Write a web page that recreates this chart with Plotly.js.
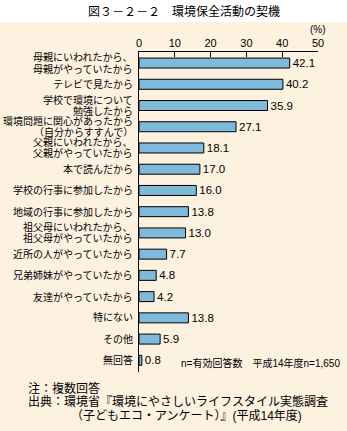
<!DOCTYPE html>
<html><head><meta charset="utf-8">
<script src="https://cdn.plot.ly/plotly-3.0.1.min.js"></script>
<style>html,body{margin:0;padding:0;background:#fff}</style>
</head><body>
<div id="chart" style="width:347px;height:431px"></div>
<script>
const categories = [
  "母親にいわれたから、<br>母親がやっていたから",
  "テレビで見たから",
  "学校で環境について<br>勉強したから",
  "環境問題に関心があったから<br>（自分からすすんで）",
  "父親にいわれたから、<br>父親がやっていたから",
  "本で読んだから",
  "学校の行事に参加したから",
  "地域の行事に参加したから",
  "祖父母にいわれたから、<br>祖父母がやっていたから",
  "近所の人がやっていたから",
  "兄弟姉妹がやっていたから",
  "友達がやっていたから",
  "特にない",
  "その他",
  "無回答"
];
const values = [42.1, 40.2, 35.9, 27.1, 18.1, 17.0, 16.0, 13.8, 13.0, 7.7, 4.8, 4.2, 13.8, 5.9, 0.8];
const valueLabels = ["42.1","40.2","35.9","27.1","18.1","17.0","16.0","13.8","13.0","7.7","4.8","4.2","13.8","5.9","0.8"];
const xTicks = [0, 10, 20, 30, 40, 50];

const F = '"Liberation Sans", "Noto Sans CJK JP", sans-serif';
const cream = '#fdf1e0';

const trace = {
  type: 'bar', orientation: 'h',
  y: categories, x: values,
  text: valueLabels, textposition: 'outside', cliponaxis: false, constraintext: 'none',
  textfont: {family: F, size: 11.5, color: '#000'},
  marker: {color: '#80badb', line: {color: '#000', width: 1}},
  width: 0.47,
  hoverinfo: 'none'
};

// category labels drawn as annotations, one per line, for tight line spacing
const catAnnotations = [];
categories.forEach(c => {
  const lines = c.split('<br>');
  const n = lines.length;
  lines.forEach((ln, k) => {
    catAnnotations.push({
      text: ln, xref: 'paper', yref: 'y', x: -0.028, y: c,
      xanchor: 'right', yanchor: 'middle', showarrow: false,
      yshift: (n - 1) * 5.5 - k * 11, borderpad: 0,
      font: {family: F, size: 10, color: '#000'}
    });
  });
});

const layout = {
  width: 347, height: 431,
  margin: {l: 139, r: 29, t: 52, b: 59},
  paper_bgcolor: cream, plot_bgcolor: 'rgba(0,0,0,0)',
  showlegend: false,
  font: {family: F, size: 10, color: '#000'},
  title: {text: '図３－２－２　環境保全活動の契機', font: {family: F, size: 12, color: '#000'},
          xref: 'container', x: 0.53, xanchor: 'center', yref: 'container', y: 0.973, yanchor: 'middle'},
  xaxis: {side: 'top', range: [0, 50], tickvals: xTicks, ticktext: xTicks.map(String),
          ticks: 'inside', ticklen: 5, tickcolor: '#000', showline: true, linecolor: '#000', linewidth: 1,
          showgrid: false, zeroline: false, tickfont: {family: F, size: 11, color: '#000'}, fixedrange: true},
  yaxis: {type: 'category', range: [14.55, -0.52], showline: true, linecolor: '#000', linewidth: 1,
          ticks: '', showgrid: false, zeroline: false, showticklabels: false, fixedrange: true},
  shapes: [
    {type: 'rect', xref: 'paper', yref: 'paper', x0: -1, x1: 1.5, y0: 1.094, y1: 1.3,
     fillcolor: '#ffffff', line: {width: 0}, layer: 'below'}
  ],
  annotations: catAnnotations.concat([
    {text: '(%)', xref: 'paper', yref: 'paper', x: 1.0, y: 1.069, xanchor: 'center', yanchor: 'middle',
     showarrow: false, borderpad: 0, font: {family: F, size: 10, color: '#000'}},
    {text: 'n=有効回答数　平成14年度n=1,650', xref: 'paper', yref: 'paper', x: 1.134, y: 0.028,
     xanchor: 'right', yanchor: 'middle', showarrow: false, font: {family: F, size: 10, color: '#000'}},
    {text: '注：複数回答', xref: 'paper', yref: 'paper', x: -0.626, y: -0.053,
     xanchor: 'left', yanchor: 'middle', showarrow: false, borderpad: 0, font: {family: F, size: 12, color: '#000'}},
    {text: '出典：環境省『環境にやさしいライフスタイル実態調査', xref: 'paper', yref: 'paper', x: -0.626, y: -0.095,
     xanchor: 'left', yanchor: 'middle', showarrow: false, borderpad: 0, font: {family: F, size: 12, color: '#000'}},
    {text: '（子どもエコ・アンケート）』(平成14年度)', xref: 'paper', yref: 'paper', x: -0.385, y: -0.138,
     xanchor: 'left', yanchor: 'middle', showarrow: false, borderpad: 0, font: {family: F, size: 12, color: '#000'}}
  ])
};

Plotly.newPlot('chart', [trace], layout, {displayModeBar: false, staticPlot: true});
</script>
</body></html>
